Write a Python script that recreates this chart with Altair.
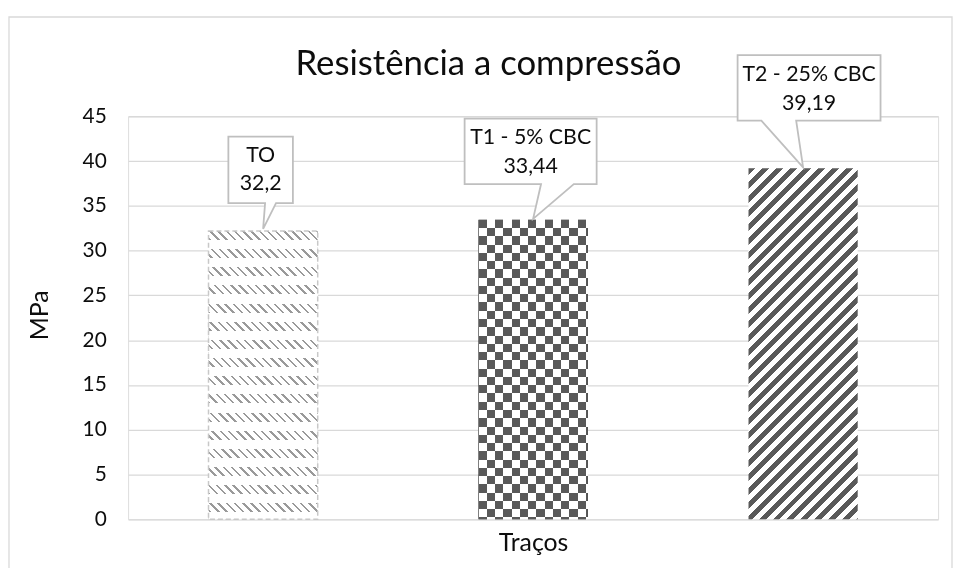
import altair as alt
import pandas as pd

# ---- data ----
categorias = ["T0", "T1", "T2"]
rotulos = ["TO", "T1 - 5% CBC", "T2 - 25% CBC"]
valores = [32.2, 33.44, 39.19]
titulo = "Resistência a compressão"

valores_txt = [f"{v:g}".replace(".", ",") for v in valores]
df = pd.DataFrame({"categoria": categorias, "rotulo": rotulos,
                   "valor": valores, "valor_txt": valores_txt})

# ---- layout / style ----
FONT = "Lato"
W, H = 816, 406
YMAX = 45
BAR_W = 110
GRID = "#d9d9d9"
TXT = "#0d0d0d"


def bar_h(v):
    return v * H / YMAX


def stripe_stops(P, duty, on, off):
    stops = []
    j = 0
    while j * P < 1:
        a = j * P
        b = min(a + duty * P, 1.0)
        c = min((j + 1) * P, 1.0)
        stops += [(a, on), (b, on)]
        if b < 1:
            stops += [(b, off), (c, off)]
        j += 1
    return [{"offset": round(o, 5), "color": col} for o, col in stops]


def diag_grad(h, period_h, duty, on, off, up=True):
    w = BAR_W
    k = (w + h) / (w * w + h * h)
    stops = stripe_stops(period_h / (w + h), duty, on, off)
    if up:   # "/" stripes
        return {"gradient": "linear", "x1": 0, "y1": 0, "x2": w * k, "y2": h * k, "stops": stops}
    # "\" stripes
    return {"gradient": "linear", "x1": 0, "y1": 1, "x2": w * k, "y2": 1 - h * k, "stops": stops}


def lin_grad(length, period, duty, on, off, vertical):
    stops = stripe_stops(period / length, duty, on, off)
    if vertical:
        return {"gradient": "linear", "x1": 0, "y1": 0, "x2": 0, "y2": 1, "stops": stops}
    return {"gradient": "linear", "x1": 0, "y1": 0, "x2": 1, "y2": 0, "stops": stops}


x_enc = alt.X("categoria:N",
              scale=alt.Scale(domain=categorias, paddingInner=0, paddingOuter=0),
              axis=alt.Axis(labels=False, ticks=False, domain=False, grid=False,
                            title="Traços", titleFont=FONT, titleFontSize=25,
                            titleFontWeight="normal", titleColor=TXT,
                            titleY=23, titleBaseline="middle"))
y_enc = alt.Y("valor:Q",
              scale=alt.Scale(domain=[0, YMAX], nice=False, zero=True),
              axis=alt.Axis(values=list(range(0, 50, 5)), grid=True, gridColor=GRID,
                            gridWidth=1.3, domain=False, ticks=False, labelPadding=22,
                            labelFont=FONT, labelFontSize=21, labelColor=TXT,
                            title="MPa", titleFont=FONT, titleFontSize=25,
                            titleFontWeight="normal", titleColor=TXT,
                            titleX=-89, titleY=H / 2 - 3, titleBaseline="middle"))

base = alt.Chart(df).encode(x=x_enc, y=y_enc)


def only(c):
    return base.transform_filter(alt.datum.categoria == c)


layers = []

# frame around the whole chart
frame = alt.Chart(alt.Data(values=[{"f": 1}])).mark_rect(
    fill=None, stroke=GRID, strokeWidth=1.3
).encode(x=alt.value(-120), x2=alt.value(830), y=alt.value(-100), y2=alt.value(470))
layers.append(frame)

# title
title = alt.Chart(alt.Data(values=[{"t": titulo}])).mark_text(
    font=FONT, fontSize=35, color=TXT, baseline="middle", align="center"
).encode(x=alt.value(363), y=alt.value(-53), text="t:N")
layers.append(title)

# T0: dashed downward diagonal pattern
h0 = bar_h(valores[0])
layers.append(only("T0").mark_bar(size=BAR_W, fill=diag_grad(h0, 8.3, 0.3, "#9a9a9a", "#ffffff", up=False)))
layers.append(only("T0").mark_bar(size=BAR_W, fill=lin_grad(h0, 18.3, 0.5, "rgba(255,255,255,0)", "#ffffff", True)))
layers.append(only("T0").mark_bar(size=BAR_W, fill=None, stroke="#c8c8c8", strokeWidth=1.5, strokeDash=[5, 3]))

# T1: checkerboard
h1 = bar_h(valores[1])
cell = 8.33
layers.append(only("T1").mark_bar(size=BAR_W, fill=lin_grad(BAR_W, 2 * cell, 0.5, "#000000", "#ffffff", False)))
layers.append(only("T1").mark_bar(size=BAR_W, fill=lin_grad(h1, 2 * cell, 0.5, "#000000", "#ffffff", True), blend="difference"))
layers.append(only("T1").mark_bar(size=BAR_W, fill="#595959", blend="lighten"))

# T2: wide upward diagonal
h2 = bar_h(valores[2])
layers.append(only("T2").mark_bar(size=BAR_W, fill=diag_grad(h2, 14, 0.5, "#595959", "#ffffff", up=True)))

# callouts (shape relative to bar top, 1 unit = 1 px with size=4)
callout_paths = {
    "T0": "M-35,-95L30,-95L30,-28L13,-28L0,-2L2,-28L-35,-28Z",
    "T1": "M-69,-102L64,-102L64,-36L41,-36L0,-1L8,-36L-69,-36Z",
    "T2": "M-66,-114L78,-114L78,-48L-7,-48L0,-1L-42,-48L-66,-48Z",
}
text_pos = {"T0": (-2.5, -75, -47), "T1": (-2.5, -82, -53), "T2": (6, -94, -65)}

for c in categorias:
    layers.append(only(c).mark_point(shape=callout_paths[c], size=4, filled=True,
                                     fill="#ffffff", stroke="#bfbfbf", strokeWidth=1.8, opacity=1))
    dx, dy1, dy2 = text_pos[c]
    layers.append(only(c).mark_text(font=FONT, fontSize=21.5, color=TXT, dx=dx, dy=dy1,
                                    baseline="middle").encode(text="rotulo:N"))
    layers.append(only(c).mark_text(font=FONT, fontSize=21.5, color=TXT, dx=dx, dy=dy2,
                                    baseline="middle").encode(text="valor_txt:N"))

chart = alt.layer(*layers).properties(
    width=W, height=H,
    padding={"left": 121, "top": 107, "right": 15, "bottom": 47},
    autosize=alt.AutoSizeParams(type="none"),
).configure_view(stroke=None).configure(background="#ffffff")

chart.save("out.html", embed_options={"renderer": "svg", "actions": False})
